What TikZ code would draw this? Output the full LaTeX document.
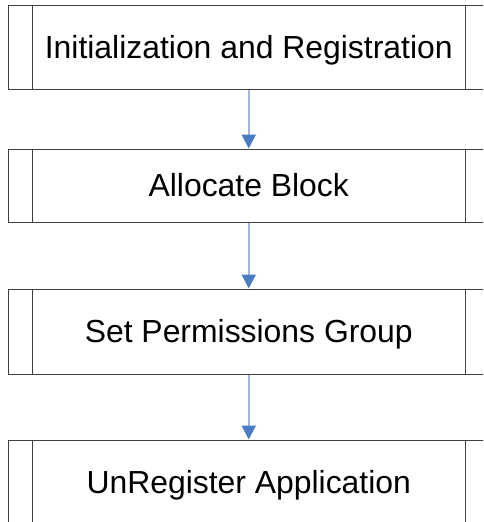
\documentclass[tikz,border=0pt]{standalone}
\usepackage{fontspec}
\setmainfont{Liberation Sans}
\usetikzlibrary{arrows.meta}
\definecolor{boxline}{HTML}{404040}
\definecolor{arrline}{HTML}{9DB7DF}
\definecolor{arrhead}{HTML}{4A7CC4}
\tikzset{
  procbox/.style={draw=boxline, line width=1pt, rectangle, minimum width=480.5pt, inner sep=0pt,
    font=\fontsize{31.9}{36}\selectfont, text height=22.8pt, text depth=0pt,
    path picture={
      \draw[boxline, line width=1pt] ([xshift=24pt]path picture bounding box.north west) -- ([xshift=24pt]path picture bounding box.south west);
      \draw[boxline, line width=1pt] ([xshift=-24pt]path picture bounding box.north east) -- ([xshift=-24pt]path picture bounding box.south east);
    }},
  flowarrow/.style={draw=arrline, line width=2pt, -{Triangle[length=14pt, width=14pt, color=arrhead]}}
}
\begin{document}
\begin{tikzpicture}[x=1pt,y=1pt]
\useasboundingbox (0,0) rectangle (483,-522);
\clip (0,0) rectangle (483,-522);
\node[procbox, minimum height=84pt] (b1) at (248.75,-47) {Initialization and Registration};
\node[procbox, minimum height=73pt] (b2) at (248.75,-185.5) {Allocate Block};
\node[procbox, minimum height=85pt] (b3) at (248.75,-331.5) {Set Permissions Group};
\node[procbox, minimum height=84pt] (b4) at (248.75,-482) {UnRegister Application};
\draw[flowarrow] (b1) -- (b2);
\draw[flowarrow] (b2) -- (b3);
\draw[flowarrow] (b3) -- (b4);
\end{tikzpicture}
\end{document}
